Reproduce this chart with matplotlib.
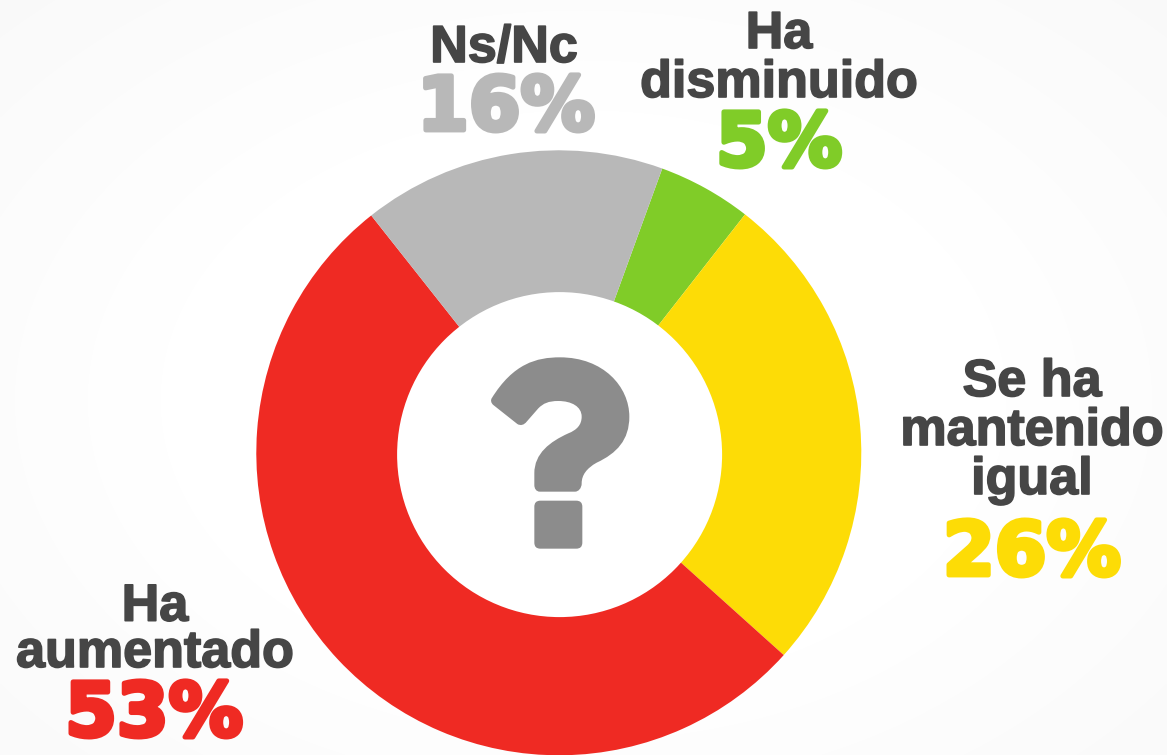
import numpy as np
import matplotlib
matplotlib.use('Agg')
import matplotlib.pyplot as plt
import matplotlib.patheffects as pe
from matplotlib.path import Path
from matplotlib.patches import PathPatch, FancyBboxPatch, Circle

# Data
labels = ['Ha\ndisminuido', 'Se ha\nmantenido\nigual', 'Ha\naumentado', 'Ns/Nc']
values = [5, 26, 53, 16]
# slice sizes as measured on the ring, the printed numbers are rounded
shares = [5, 26.1, 52.7, 16.2]
colors = ['#80cc28', '#fddc06', '#ef2a23', '#b8b8b8']
dark = '#464646'
icon_grey = '#8c8c8c'

plt.rcParams['font.family'] = ['Liberation Sans', 'DejaVu Sans']

fig = plt.figure(figsize=(11.67, 7.55), dpi=100)
ax = fig.add_axes([0, 0, 1, 1])

# Faint grey vignette behind the chart
yy, xx = np.mgrid[0:755, 0:1167]
dist = np.sqrt(((xx - 583) / 583) ** 2 + ((yy - 400) / 400) ** 2)
bg = 1 - 0.025 * np.clip(dist - 0.6, 0, 1) / 0.8
ax.imshow(bg, cmap='gray', vmin=0, vmax=1, extent=(0, 1167, -755, 0), zorder=0, aspect='auto')

# Donut, the hole sits a little lower than the ring centre
cx, cy, r_out = 558.8, 452.8, 302.5
ax.pie(shares, colors=colors, startangle=70, counterclock=False, radius=r_out, center=(cx, -cy),
       wedgeprops=dict(linewidth=0), frame=True)
ax.add_patch(Circle((559.6, -454.6), 162.5, facecolor='white', edgecolor='none', zorder=2))

# pie draws y upwards, so the axes run in negative pixel rows
ax.set_xlim(0, 1167)
ax.set_ylim(-755, 0)
ax.set_aspect('auto')
ax.axis('off')


def zx(x):
    return 400 + x / 3


def zy(y):
    return -(300 + y / 3)


# Question mark icon in the hole
pts = [(275, 295), (340, 190), (410, 172), (480, 172), (610, 172), (688, 260), (688, 350),
       (688, 420), (650, 460), (590, 488), (560, 505), (545, 525), (545, 550),
       (545, 565), (535, 575), (525, 575), (420, 575), (408, 575), (403, 565), (403, 555),
       (403, 520), (403, 460), (450, 425), (505, 400), (530, 390), (545, 375), (545, 350),
       (545, 320), (515, 303), (475, 303), (445, 303), (430, 310), (415, 325),
       (380, 365), (372, 375), (362, 378), (352, 372), (280, 315), (272, 308), (272, 300), (275, 295)]
C = Path.CURVE4
L = Path.LINETO
codes = [Path.MOVETO] + [C] * 15 + [L] + [C] * 3 + [L] + [C] * 12 + [L] + [C] * 3 + [L] + [C] * 3
verts = [(zx(x), zy(y)) for x, y in pts]
ax.add_patch(PathPatch(Path(verts, codes), facecolor=icon_grey, edgecolor='none', zorder=3))
ax.add_patch(FancyBboxPatch((zx(403) + 6, zy(746) + 6), 48 - 12, 48 - 12, boxstyle='round,pad=6,rounding_size=6',
                            facecolor=icon_grey, edgecolor='none', zorder=3))

# Labels: baseline of the last name line and of the percent (pixels)
name_pos = [(779, 97), (1032, 494), (155, 667), (504, 62)]
name_spacing = [1.0, 1.0, 0.93, 1.0]
pct_pos = [(779, 166), (1032, 575), (154, 736), (506, 130)]

for lab, val, col, (nx, ny), ls, (px, py) in zip(labels, values, colors, name_pos, name_spacing, pct_pos):
    ax.text(nx, -ny, lab, ha='center', va='baseline', fontsize=37.5, fontweight='bold', color=dark,
            linespacing=ls, zorder=4,
            path_effects=[pe.withStroke(linewidth=1.2, foreground=dark)])
    ax.text(px, -py, f'{val}%', ha='center', va='baseline', fontsize=53.5, fontweight='bold', color=col, zorder=4,
            family=['DejaVu Sans'],
            path_effects=[pe.withStroke(linewidth=3.5, foreground=col)])

fig.savefig('out.png', dpi=100)
